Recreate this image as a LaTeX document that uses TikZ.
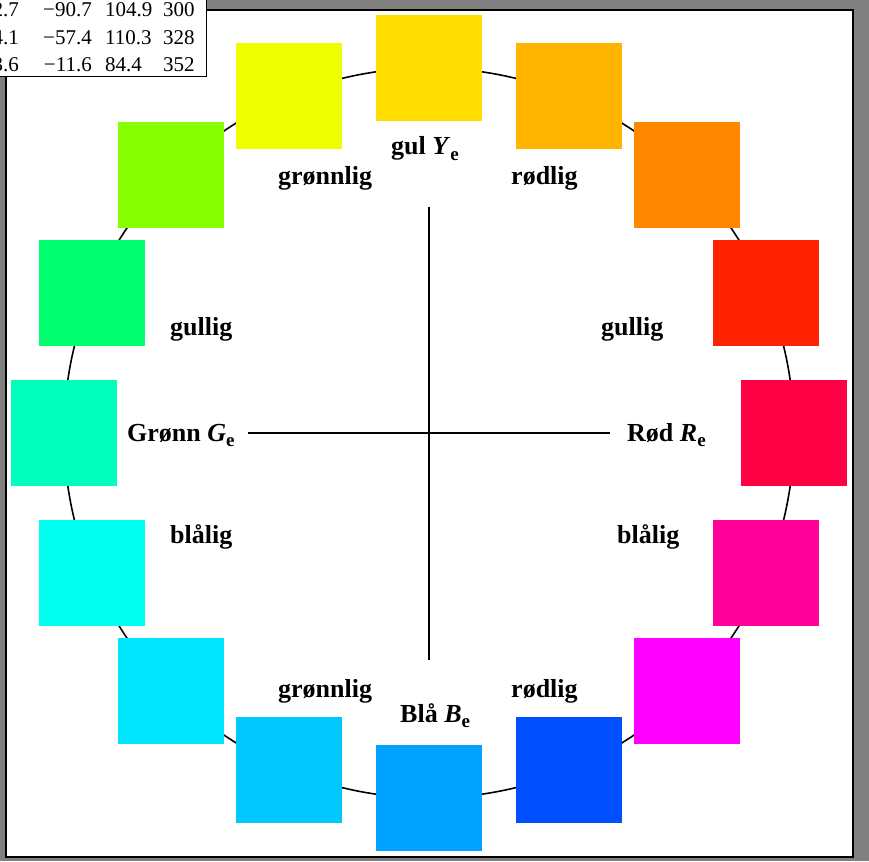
\documentclass[tikz,border=0pt]{standalone}
\usepackage{fontspec}
\setmainfont{Liberation Serif}
\definecolor{bggray}{HTML}{808080}
\definecolor{q0}{HTML}{FF0044}
\definecolor{q1}{HTML}{FF2200}
\definecolor{q2}{HTML}{FF8800}
\definecolor{q3}{HTML}{FFB400}
\definecolor{q4}{HTML}{FFDD00}
\definecolor{q5}{HTML}{EEFF00}
\definecolor{q6}{HTML}{88FF00}
\definecolor{q7}{HTML}{00FF70}
\definecolor{q8}{HTML}{00FFBB}
\definecolor{q9}{HTML}{00FFF0}
\definecolor{q10}{HTML}{00E5FF}
\definecolor{q11}{HTML}{00C8FF}
\definecolor{q12}{HTML}{00A3FF}
\definecolor{q13}{HTML}{0050FF}
\definecolor{q14}{HTML}{FF00FF}
\definecolor{q15}{HTML}{FF0099}
\newcommand\lowsub[1]{\raisebox{-0.22em}{\fontsize{19}{19}\selectfont #1}}
\begin{document}
\begin{tikzpicture}[x=1pt,y=-1pt,
  patch/.style={minimum size=106pt, inner sep=0pt, outer sep=0pt, draw=none},
  lbl/.style={font=\fontsize{26}{26}\selectfont\bfseries, inner sep=0pt, anchor=base west},
  tbr/.style={font=\fontsize{21}{21}\selectfont, inner sep=0pt, anchor=base east},
  tbl/.style={font=\fontsize{21}{21}\selectfont, inner sep=0pt, anchor=base west},
  axis/.style={line width=1.6pt}]
\useasboundingbox (0,0) rectangle (869,861);
\fill[bggray] (0,0) rectangle (869,861);
\node[draw=black, line width=2pt, fill=white, inner sep=0pt, outer sep=0pt,
  minimum width=847pt, minimum height=847pt, anchor=north west] (frame) at (6,10) {};
\node[circle, draw=black, line width=1.6pt, inner sep=0pt, minimum size=730pt] (ring) at (429,433) {};
\foreach \i in {0,...,15}{
  \node[patch, fill=q\i] (p\i) at ({429+365*cos(\i*22.5)},{433-365*sin(\i*22.5)}) {};
}
\coordinate (hl) at (248,433);
\coordinate (hr) at (610,433);
\coordinate (vt) at (429,207);
\coordinate (vb) at (429,660);
\draw[axis] (hl) -- (hr);
\draw[axis] (vt) -- (vb);
\node[lbl] (lY) at (391,155) {gul \textit{Y}\lowsub{e}};
\node[lbl] (lgn1) at (278,185) {grønnlig};
\node[lbl] (lrd1) at (511,185) {rødlig};
\node[lbl] (lgu1) at (170,335) {gullig};
\node[lbl] (lgu2) at (601,335) {gullig};
\node[lbl] (lG) at (127,441) {Grønn \textit{G}\lowsub{e}};
\node[lbl] (lR) at (627,441) {Rød \textit{R}\lowsub{e}};
\node[lbl] (lbl1) at (170,543) {blålig};
\node[lbl] (lbl2) at (617,543) {blålig};
\node[lbl] (lgn2) at (278,697) {grønnlig};
\node[lbl] (lrd2) at (511,697) {rødlig};
\node[lbl] (lB) at (400,722) {Blå \textit{B}\lowsub{e}};
% table box
\node[draw=black, line width=1pt, fill=white, inner sep=0pt, outer sep=0pt,
  minimum width=208pt, minimum height=78pt, anchor=south east] (tab) at (206,77) {};
\node[tbr] (a1) at (19,17) {2.7};
\node[tbr] (b1) at (92,17) {−90.7};
\node[tbl] (c1) at (105,17) {104.9};
\node[tbl] (d1) at (163,17) {300};
\node[tbr] (a2) at (19,45) {4.1};
\node[tbr] (b2) at (92,45) {−57.4};
\node[tbl] (c2) at (105,45) {110.3};
\node[tbl] (d2) at (163,45) {328};
\node[tbr] (a3) at (19,72) {3.6};
\node[tbr] (b3) at (92,72) {−11.6};
\node[tbl] (c3) at (105,72) {84.4};
\node[tbl] (d3) at (163,72) {352};
\end{tikzpicture}
\end{document}
